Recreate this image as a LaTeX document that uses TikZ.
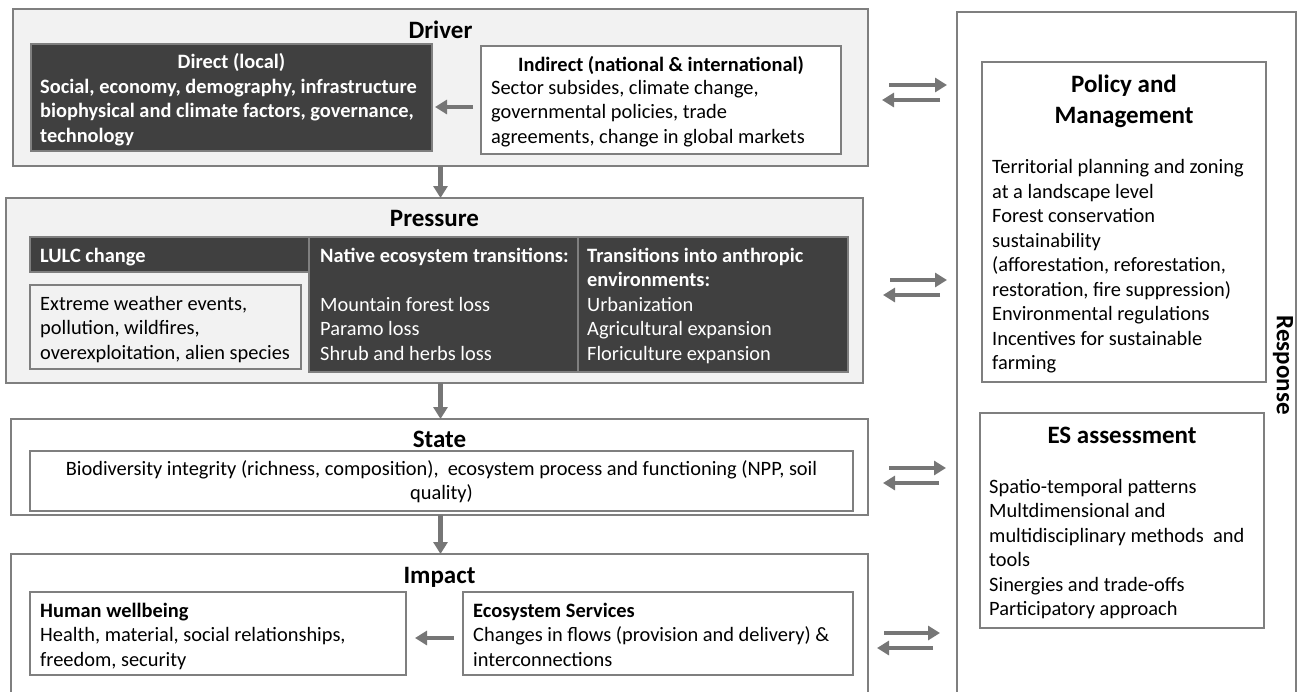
\documentclass[tikz,border=0pt]{standalone}
\usepackage{fontspec}
\setmainfont{Carlito}
\usetikzlibrary{arrows.meta,calc}
\definecolor{boxline}{HTML}{7F7F7F}
\definecolor{panel}{HTML}{F2F2F2}
\definecolor{darkcell}{HTML}{404040}
\definecolor{arrowgray}{HTML}{767676}
\tikzset{
  frame/.style={draw=boxline, line width=1.2pt, inner sep=0pt, outer sep=0pt, anchor=north west},
  panelbox/.style={frame, fill=panel},
  whitebox/.style={frame, fill=white},
  darkbox/.style={frame, fill=darkcell},
  flow/.style={draw=arrowgray, line width=4.5pt, -{Triangle[length=12pt,width=14pt]}},
  title/.style={font=\fontsize{25}{31}\selectfont\bfseries, inner sep=0pt, anchor=base, align=center},
  body/.style={font=\fontsize{20.4}{24.5}\selectfont, inner sep=0pt, align=left, anchor=base west},
  bodyb/.style={font=\fontsize{20.4}{24.5}\selectfont\bfseries, inner sep=0pt, align=left, anchor=base west},
  head/.style={font=\fontsize{20.4}{24.5}\selectfont\bfseries, inner sep=0pt, anchor=base},
}
% multi-line nodes are anchored on the baseline of their last line
\begin{document}
\begin{tikzpicture}[x=1pt,y=-1pt]
\useasboundingbox (0,0) rectangle (1300,691);
\clip (0,0) rectangle (1300,691);

% ---------- Driver ----------
\node[panelbox, minimum width=855, minimum height=157] (drv) at (13,9) {};
\node[title] (drvT) at ($(drv.north)+(0,29)$) {Driver};
\node[darkbox, minimum width=401, minimum height=107] (direct) at (31,44) {};
\node[head, text=white] (directT) at ($(direct.north)+(0,24)$) {Direct (local)};
\node[bodyb, text=white] (directB) at ($(direct.north west)+(9,98)$)
  {Social, economy, demography, infrastructure\\biophysical and climate factors, governance,\\technology};
\node[whitebox, minimum width=360, minimum height=108] (indirect) at (481,46) {};
\node[head] (indirectT) at ($(indirect.north)+(0,25)$) {Indirect (national \& international)};
\node[body] (indirectB) at ($(indirect.north west)+(10,97)$)
  {Sector subsides, climate change,\\governmental policies, trade\\agreements, change in global markets};
\draw[flow] ($(indirect.west)+(-8,7)$) -- ($(direct.east |- indirect.west)+(3,7)$);

% ---------- Pressure ----------
\node[panelbox, minimum width=857, minimum height=185] (prs) at (6,198) {};
\node[title] (prsT) at ($(prs.north)+(0,28)$) {Pressure};
\node[darkbox, minimum width=279, minimum height=35] (lulc) at (30,237) {};
\node[darkbox, minimum width=269, minimum height=135] (native) at (309,237) {};
\node[darkbox, minimum width=270, minimum height=135] (anthro) at (578,237) {};
\node[panelbox, minimum width=271, minimum height=84] (lulcbox) at (30,285) {};
\node[bodyb, text=white] (lulcT) at ($(lulc.north west)+(10,25)$) {LULC change};
\node[body] (lulcB) at ($(lulcbox.north west)+(10,74)$)
  {Extreme weather events,\\pollution, wildfires,\\overexploitation, alien species};
\node[body, text=white] (nativeB) at ($(native.north west)+(11,123)$)
  {\textbf{Native ecosystem transitions:}\\[24.5pt]Mountain forest loss\\Paramo loss\\Shrub and herbs loss};
\node[body, text=white] (anthroB) at ($(anthro.north west)+(9,123)$)
  {\textbf{Transitions into anthropic}\\\textbf{environments:}\\Urbanization\\Agricultural expansion\\Floriculture expansion};

% ---------- State ----------
\node[whitebox, minimum width=857, minimum height=96] (state) at (11,419) {};
\node[title] (stateT) at ($(state.north)+(0,28)$) {State};
\node[whitebox, minimum width=823, minimum height=60] (stateinner) at (30,451) {};
\node[body, anchor=base, align=center] (stateB) at ($(stateinner.north)+(0,48.5)$)
  {Biodiversity integrity (richness, composition), \ ecosystem process and functioning (NPP, soil\\quality)};

% ---------- Impact ----------
\node[whitebox, minimum width=857, minimum height=160] (impact) at (11,554) {};
\node[title] (impactT) at ($(impact.north)+(0,29)$) {Impact};
\node[whitebox, minimum width=376, minimum height=83] (hw) at (30,592) {};
\node[whitebox, minimum width=390, minimum height=83] (es) at (463,592) {};
\node[body] (hwB) at ($(hw.north west)+(10,74)$)
  {\textbf{Human wellbeing}\\Health, material, social relationships,\\freedom, security};
\node[body] (esB) at ($(es.north west)+(10,74)$)
  {\textbf{Ecosystem Services}\\Changes in flows (provision and delivery) \&\\interconnections};
\draw[flow] ($(es.west)+(-9,4.5)$) -- ($(hw.east)+(9,4.5)$);

% ---------- Response ----------
\node[whitebox, minimum width=339, minimum height=700] (resp) at (957,12) {};
\node[title, rotate=-90, anchor=center] (respT) at ($(resp.east)+(-13,3)$) {Response};
\node[whitebox, minimum width=284, minimum height=320] (policy) at (982,62) {};
\node[title] (policyT) at ($(policy.north)+(0,61)$) {Policy and\\Management};
\node[body] (policyB) at ($(policy.north west)+(10,307.5)$)
  {Territorial planning and zoning\\at a landscape level\\Forest conservation\\sustainability\\(afforestation, reforestation,\\restoration, fire suppression)\\Environmental regulations\\Incentives for sustainable\\farming};
\node[whitebox, minimum width=284, minimum height=215] (esa) at (980,413) {};
\node[title] (esaT) at ($(esa.north)+(0,30)$) {ES assessment};
\node[body] (esaB) at ($(esa.north west)+(9,202.5)$)
  {Spatio-temporal patterns\\Multdimensional and\\multidisciplinary methods \ and\\tools\\Sinergies and trade-offs\\Participatory approach};

% ---------- Causal chain ----------
\draw[flow] (drv.south) -- (drv.south |- prs.north);
\draw[flow] (drv.south |- prs.south) -- (drv.south |- state.north);
\draw[flow] (drv.south |- state.south) -- (drv.south |- impact.north);

% ---------- Exchanges with the response ----------
\draw[flow] ($(drv.east)+(21,-2.5)$) -- ($(drv.east -| resp.west)+(-10,-2.5)$);
\draw[flow] ($(drv.east -| resp.west)+(-17,12.5)$) -- ($(drv.east)+(14,12.5)$);
\draw[flow] ($(prs.east)+(27,-10.5)$) -- ($(prs.east -| resp.west)+(-10,-10.5)$);
\draw[flow] ($(prs.east -| resp.west)+(-17,4.5)$) -- ($(prs.east)+(20,4.5)$);
\draw[flow] ($(state.east)+(21,1)$) -- ($(state.east -| resp.west)+(-11,1)$);
\draw[flow] ($(state.east -| resp.west)+(-18,16)$) -- ($(state.east)+(15,16)$);
\draw[flow] ($(impact.east)+(16,-1)$) -- ($(impact.east -| resp.west)+(-17,-1)$);
\draw[flow] ($(impact.east -| resp.west)+(-24,14)$) -- ($(impact.east)+(9,14)$);
\end{tikzpicture}
\end{document}
